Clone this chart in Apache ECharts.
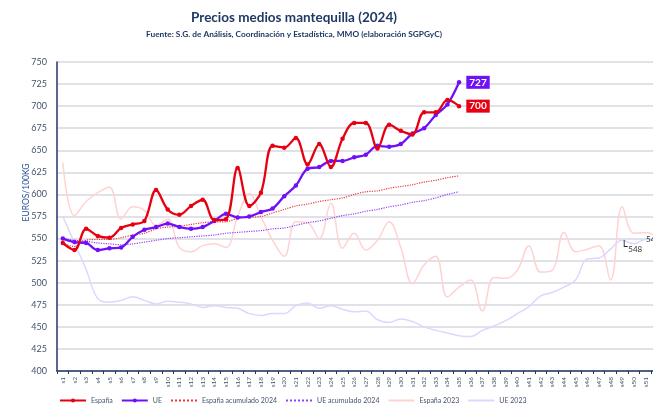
<!DOCTYPE html>
<html>
<head>
<meta charset="utf-8">
<script src="https://cdn.jsdelivr.net/npm/echarts@6/dist/echarts.min.js"></script>
<style>
    html, body { margin: 0; padding: 0; background: #fff; overflow: hidden; }
    /* el gráfico original está recortado por la derecha (s52 queda fuera) */
    #chart { width: 663px; height: 412px; }
</style>
</head>
<body>
<div id="chart"></div>
<script>
// semanas
const weeks = ['s1','s2','s3','s4','s5','s6','s7','s8','s9','s10','s11','s12','s13','s14','s15','s16','s17','s18','s19','s20',
    's21','s22','s23','s24','s25','s26','s27','s28','s29','s30','s31','s32','s33','s34','s35','s36','s37','s38','s39','s40',
    's41','s42','s43','s44','s45','s46','s47','s48','s49','s50','s51','s52']

// 2024 (s1 - s35)
const espana2024 = [545, 537, 561, 553, 551, 562, 566, 570, 605, 583, 577, 587, 594, 571, 572, 630, 587, 602, 655, 653,
    664, 634, 657, 631, 663, 681, 681, 652, 679, 672, 668, 693, 693, 707, 700]
const ue2024 = [550, 546, 545, 537, 539, 540, 552, 560, 563, 567, 563, 561, 563, 570, 578, 574, 575, 580, 584, 598,
    610, 629, 631, 638, 638, 642, 645, 655, 654, 657, 669, 675, 690, 702, 727]
const espanaAcum2024 = [545, 541, 548, 549, 549, 551, 554, 556, 561, 563, 564, 566, 568, 569, 569, 573, 574, 575, 579, 583,
    587, 589, 592, 594, 596, 600, 603, 604, 607, 609, 611, 614, 616, 619, 621]
const ueAcum2024 = [550, 548, 547, 545, 544, 543, 544, 546, 548, 550, 551, 552, 553, 554, 556, 557, 558, 559, 561, 562,
    565, 568, 570, 573, 576, 578, 581, 583, 586, 588, 591, 593, 596, 600, 603]

// 2023 (s1 - s52)
const espana2023 = [636, 576, 592, 602, 608, 572, 586, 582, 565, 572, 540, 535, 542, 544, 540, 575, 601, 575, 548, 530,
    569, 568, 550, 590, 539, 556, 537, 548, 569, 540, 499, 520, 530, 484, 495, 503, 468, 506, 505, 514,
    542, 512, 514, 557, 535, 538, 542, 503, 586, 556, 557, 552]
const ue2023 = [575, 545, 515, 482, 478, 480, 484, 480, 476, 479, 478, 476, 472, 474, 472, 471, 465, 463, 465, 465,
    474, 477, 471, 474, 470, 467, 468, 458, 455, 459, 456, 450, 446, 443, 440, 439, 446, 451, 457, 465,
    473, 485, 489, 495, 503, 527, 528, 538, 548, 544, 549, 549]

const RED = '#e60012'
const PURPLE = '#7010f8'
const NAVY = '#1f3864'
const TXT = '#44546a'
const FONT = 'Lato'

function lastLabel(values, color) {
    return values.map((v, i) => i === values.length - 1 ? {
        value: v,
        label: {
            show: true, position: 'right', distance: 5,
            backgroundColor: color, color: '#fff', fontWeight: 'bold',
            fontSize: 10, fontFamily: FONT, padding: [2, 3, 1, 3]
        }
    } : v)
}

// etiquetas sueltas de UE 2023 (s49 y s51)
const ue2023Data = ue2023.map((v, i) => {
    if (i === 48) {
        return { value: v, symbol: 'circle', symbolSize: 1,
            label: { show: true, position: 'right', offset: [-7, 7],
            formatter: '{a|└}{b|{c}}', rich: {
                a: { fontSize: 11, color: '#222', fontFamily: 'DejaVu Sans' },
                b: { fontSize: 8, color: '#333', fontFamily: FONT, padding: [5, 0, 0, 1] }
            } } }
    }
    if (i === 50) {
        return { value: v, symbol: 'circle', symbolSize: 1,
            label: { show: true, position: 'right', distance: 0, fontSize: 8, color: '#333', fontFamily: FONT } }
    }
    return v
})

const noMarker = { opacity: 0 }

const chart = echarts.init(document.getElementById('chart'))
const option = {
    backgroundColor: '#fff',
    animation: false,
    textStyle: { fontFamily: FONT },
    title: [
        {
            text: 'Precios medios mantequilla (2024)',
            left: 289, top: 6, textAlign: 'center',
            textStyle: { fontSize: 13.5, fontWeight: 'bold', color: NAVY, fontFamily: FONT }
        },
        {
            text: 'Fuente: S.G. de Análisis, Coordinación y Estadística, MMO (elaboración SGPGyC)',
            left: 289, top: 25, textAlign: 'center',
            textStyle: { fontSize: 8.3, fontWeight: 'bold', color: NAVY, fontFamily: FONT }
        }
    ],
    legend: {
        left: 54, top: 392,
        itemWidth: 26, itemHeight: 5, itemGap: 8,
        textStyle: { fontSize: 7, color: TXT, fontFamily: FONT },
        data: [
            'España', 'UE',
            { name: 'España acumulado 2024', itemStyle: noMarker },
            { name: 'UE acumulado 2024', itemStyle: noMarker },
            { name: 'España 2023', itemStyle: noMarker },
            { name: 'UE 2023', itemStyle: noMarker }
        ]
    },
    grid: { left: 57, right: 0, top: 62, bottom: 41, containLabel: false },
    xAxis: {
        type: 'category',
        data: weeks,
        boundaryGap: true,
        axisLine: { lineStyle: { color: NAVY, width: 1.5 } },
        axisTick: { show: true, length: 3, lineStyle: { color: NAVY } },
        axisLabel: { rotate: 90, interval: 0, fontSize: 6.5, color: TXT, margin: 6 }
    },
    yAxis: {
        type: 'value',
        min: 400, max: 750, interval: 25,
        name: 'EUROS/100KG',
        nameLocation: 'middle',
        nameGap: 26,
        nameMoveOverlap: false,
        nameTextStyle: { fontSize: 8.5, color: '#2f5597', padding: [0, 0, 0, 48] },
        axisLine: { show: true, lineStyle: { color: NAVY, width: 1.5 } },
        axisTick: { show: false },
        axisLabel: { fontSize: 9, color: TXT, margin: 10 },
        splitLine: { lineStyle: { color: '#d6d8e0', width: 1.5 } }
    },
    series: [
        {
            name: 'España 2023', type: 'line', data: espana2023, smooth: 0.4,
            symbol: 'none', z: 1,
            lineStyle: { color: '#ffd3d3', width: 1.5 }, itemStyle: { color: '#ffd3d3' }
        },
        {
            name: 'UE 2023', type: 'line', data: ue2023Data, smooth: 0.4,
            symbol: 'none', z: 1,
            lineStyle: { color: '#d9d9ff', width: 1.5 }, itemStyle: { color: '#d9d9ff' }
        },
        {
            name: 'España acumulado 2024', type: 'line', data: espanaAcum2024, smooth: 0.3,
            symbol: 'none', z: 2,
            lineStyle: { color: '#e83a3a', width: 1.2, type: 'dotted' }, itemStyle: { color: '#e83a3a' }
        },
        {
            name: 'UE acumulado 2024', type: 'line', data: ueAcum2024, smooth: 0.3,
            symbol: 'none', z: 2,
            lineStyle: { color: '#9040ff', width: 1.2, type: 'dotted' }, itemStyle: { color: '#9040ff' }
        },
        {
            name: 'España', type: 'line', data: lastLabel(espana2024, RED), smooth: 0.35,
            symbol: 'circle', symbolSize: 4.5, z: 4,
            lineStyle: { color: RED, width: 2.3 }, itemStyle: { color: RED }
        },
        {
            name: 'UE', type: 'line', data: lastLabel(ue2024, PURPLE), smooth: 0.35,
            symbol: 'circle', symbolSize: 4.5, z: 3,
            lineStyle: { color: PURPLE, width: 2.3 }, itemStyle: { color: PURPLE }
        }
    ]
}
option && chart.setOption(option)
</script>
</body>
</html>
